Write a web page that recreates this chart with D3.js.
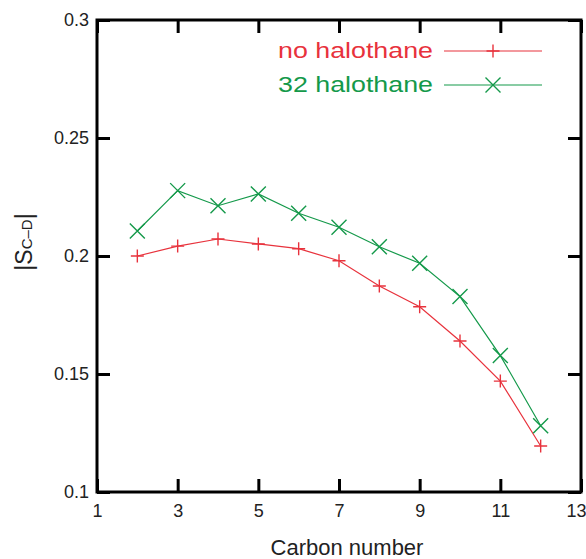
<!DOCTYPE html>
<meta charset="utf-8">
<title>order parameter</title>
<style>
body {
  margin: 0px;
  background: #fff;
}
text {
  font-family: "Liberation Sans", Arial, sans-serif;
}
</style>
<script src="https://d3js.org/d3.v7.min.js"></script>
<body>
<script>
var width = 586, height = 559;
var margin = {left: 97, right: 4, top: 20, bottom: 67};

// carbon numbers and |S_CD| values
var carbons = [2, 3, 4, 5, 6, 7, 8, 9, 10, 11, 12];
var noHalothane = [0.200, 0.2042, 0.2072, 0.2051, 0.2031, 0.198, 0.1873, 0.1785, 0.164, 0.147, 0.1195];
var halothane32 = [0.2106, 0.2277, 0.2213, 0.2263, 0.2181, 0.2122, 0.2039, 0.1969, 0.1828, 0.1578, 0.1281];
var seriesNames = ["no halothane", "32 halothane"];
var xTicks = [1, 3, 5, 7, 9, 11, 13];
var yTicks = [0.1, 0.15, 0.2, 0.25, 0.3];

var red = "#e8323c", green = "#14994a";

var svg = d3.select("body").append("svg")
    .attr("width", width)
    .attr("height", height);

var x = d3.scaleLinear().domain([1, 13]).range([margin.left, width - margin.right - 1]);
var y = d3.scaleLinear().domain([0.1, 0.3]).range([height - margin.bottom, margin.top]);

// axes, ticks point inward on all four sides
var gx = svg.append("g")
    .attr("transform", "translate(0," + y(0.1) + ")")
    .call(d3.axisBottom(x).tickValues(xTicks).tickSize(-13).tickPadding(12).tickFormat(d3.format("d")));
var gxTop = svg.append("g")
    .attr("transform", "translate(0," + y(0.3) + ")")
    .call(d3.axisTop(x).tickValues(xTicks).tickSize(-13).tickFormat(""));
var gy = svg.append("g")
    .attr("transform", "translate(" + x(1) + ",0)")
    .call(d3.axisLeft(y).tickValues(yTicks).tickSize(-13).tickPadding(8).tickFormat(function(d) { return d3.format("")(+d.toFixed(2)); }));
var gyRight = svg.append("g")
    .attr("transform", "translate(" + x(13) + ",0)")
    .call(d3.axisRight(y).tickValues(yTicks).tickSize(-13).tickFormat(""));

[gx, gxTop, gy, gyRight].forEach(function(g) {
  g.select(".domain").remove();
  g.selectAll("line").attr("stroke", "#000").attr("stroke-width", 3);
  g.selectAll("text").attr("fill", "#222").style("font-size", "18px").style("font-family", "'Liberation Sans', Arial, sans-serif");
});
// last x label sits against the page edge
gx.selectAll("text").filter(function(d) { return d === 13; }).attr("dx", -5);

svg.append("rect")
    .attr("x", x(1))
    .attr("y", y(0.3))
    .attr("width", x(13) - x(1))
    .attr("height", y(0.1) - y(0.3))
    .attr("fill", "none")
    .attr("stroke", "#000")
    .attr("stroke-width", 3);

// axis titles
svg.append("text")
    .attr("x", 347)
    .attr("y", 555)
    .attr("text-anchor", "middle")
    .attr("fill", "#222")
    .style("font-size", "22px")
    .text("Carbon number");

var ylab = svg.append("text")
    .attr("transform", "translate(32,242) rotate(-90)")
    .attr("text-anchor", "middle")
    .attr("fill", "#222")
    .style("font-size", "23px");
ylab.append("tspan").text("|S");
ylab.append("tspan").style("font-size", "15px").text("C\u2013D");
ylab.append("tspan").text("|");

var line = d3.line()
    .x(function(d) { return x(d[0]); })
    .y(function(d) { return y(d[1]); });

function plus(g, cx, cy, r, color) {
  g.append("path")
      .attr("d", "M" + (cx - r) + "," + cy + "H" + (cx + r) + "M" + cx + "," + (cy - r) + "V" + (cy + r))
      .attr("stroke", color).attr("stroke-width", 1.4).attr("fill", "none");
}
function cross(g, cx, cy, r, color) {
  g.append("path")
      .attr("d", "M" + (cx - r) + "," + (cy - r) + "L" + (cx + r) + "," + (cy + r) + "M" + (cx - r) + "," + (cy + r) + "L" + (cx + r) + "," + (cy - r))
      .attr("stroke", color).attr("stroke-width", 1.4).attr("fill", "none");
}

var redData = carbons.map(function(c, i) { return [c, noHalothane[i]]; });
var greenData = carbons.map(function(c, i) { return [c, halothane32[i]]; });

var plot = svg.append("g");
plot.append("path").datum(redData).attr("d", line)
    .attr("fill", "none").attr("stroke", red).attr("stroke-width", 1.2);
plot.append("path").datum(greenData).attr("d", line)
    .attr("fill", "none").attr("stroke", green).attr("stroke-width", 1.2);
redData.forEach(function(d) { plus(plot, x(d[0]), y(d[1]), 6.5, red); });
greenData.forEach(function(d) { cross(plot, x(d[0]), y(d[1]), 7.5, green); });

// legend
var legend = svg.append("g");
var legendRows = [{name: seriesNames[0], color: red, y: 51, mark: plus},
                  {name: seriesNames[1], color: green, y: 85, mark: cross}];
legendRows.forEach(function(r) {
  legend.append("text")
      .attr("x", 433)
      .attr("y", r.y + 7)
      .attr("text-anchor", "end")
      .attr("fill", r.color)
      .attr("textLength", 155)
      .attr("lengthAdjust", "spacingAndGlyphs")
      .style("font-size", "22px")
      .text(r.name);
  legend.append("line")
      .attr("x1", 444).attr("x2", 542)
      .attr("y1", r.y).attr("y2", r.y)
      .attr("stroke", r.color).attr("stroke-width", 1.2);
  r.mark(legend, 493, r.y, r.mark === plus ? 6.5 : 7.5, r.color);
});
</script>
</body>
